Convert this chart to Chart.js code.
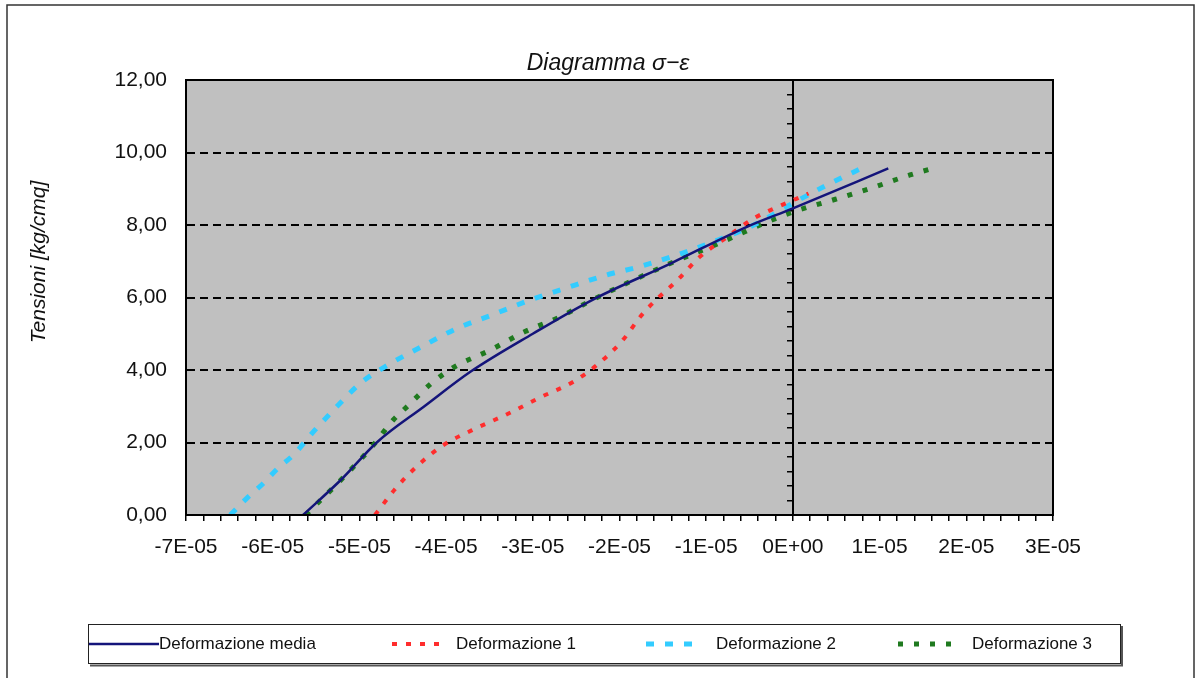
<!DOCTYPE html>
<html>
<head>
<meta charset="utf-8">
<script src="https://cdn.jsdelivr.net/npm/chart.js@4.4.1/dist/chart.umd.min.js"></script>
<style>
  body { margin: 0; background: #fff; }
  canvas { display: block; }
</style>
</head>
<body>
<canvas id="grafico" width="1201" height="678"></canvas>
<script>
var titolo = "Diagramma σ−ε";
var titoloY = "Tensioni [kg/cmq]";
var nomiSerie = ["Deformazione media", "Deformazione 1", "Deformazione 2", "Deformazione 3"];

var mediaX = [-5.65e-5, -5.2e-5, -4.8e-5, -4.25e-5, -3.72e-5, -3.0e-5, -2.3e-5, -1.4e-5, -0.53e-5, 0, 1.1e-5];
var mediaY = [0, 1.0, 2.0, 3.0, 3.95, 5.0, 5.95, 6.95, 7.95, 8.46, 9.56];

var def1X = [-4.82e-5, -4.59e-5, -4.32e-5, -4.03e-5, -3.70e-5, -3.28e-5, -2.90e-5, -2.53e-5, -2.26e-5, -1.96e-5, -1.75e-5, -1.55e-5, -1.34e-5, -1.07e-5, -0.80e-5, -0.44e-5, -0.24e-5, 0.18e-5];
var def1Y = [0, 0.71, 1.38, 1.93, 2.34, 2.80, 3.26, 3.68, 4.14, 4.83, 5.5, 6.0, 6.46, 7.13, 7.6, 8.2, 8.43, 8.87];

var def2X = [-6.49e-5, -6.30e-5, -6.11e-5, -5.94e-5, -5.76e-5, -5.53e-5, -5.28e-5, -4.99e-5, -4.67e-5, -4.30e-5, -3.90e-5, -3.47e-5, -3.03e-5, -2.63e-5, -2.15e-5, -1.74e-5, -1.28e-5, -0.85e-5, -0.45e-5, 0, 0.39e-5, 0.84e-5];
var def2Y = [0, 0.46, 0.87, 1.29, 1.66, 2.30, 2.94, 3.63, 4.14, 4.62, 5.12, 5.52, 5.93, 6.25, 6.62, 6.87, 7.22, 7.6, 8.0, 8.6, 9.10, 9.62];

var def3X = [-5.62e-5, -5.2e-5, -4.85e-5, -4.61e-5, -4.45e-5, -4.17e-5, -3.90e-5, -3.49e-5, -3.09e-5, -2.70e-5, -2.30e-5, -1.5e-5, -0.8e-5, -0.36e-5, 0.04e-5, 0.49e-5, 0.93e-5, 1.35e-5, 1.58e-5];
var def3Y = [0, 1.0, 1.9, 2.62, 2.99, 3.63, 4.09, 4.55, 5.06, 5.45, 5.95, 6.85, 7.55, 8.02, 8.39, 8.71, 9.04, 9.38, 9.54];

function punti(xs, ys) {
    return xs.map(function (x, i) { return { x: x, y: ys[i] }; });
}

// etichette asse x tipo Excel (0E+00), solo ogni 1E-05
function formatoE(v) {
    var m = v / 1e-5;
    var n = Math.round(m);
    if (Math.abs(m - n) > 1e-6) return '';
    if (n === 0) return '0E+00';
    return n + 'E-05';
}

Chart.defaults.font.family = '"Liberation Sans", Arial, sans-serif';
Chart.defaults.color = '#111';

// sfondo grigio, cornici, titoli e legenda
var decorazioni = {
    id: 'decorazioni',
    beforeDraw: function (chart) {
        var ctx = chart.ctx, a = chart.chartArea;
        ctx.save();
        ctx.fillStyle = '#c0c0c0';
        ctx.fillRect(a.left, a.top, a.right - a.left, a.bottom - a.top);
        ctx.restore();
    },
    afterDraw: function (chart) {
        var ctx = chart.ctx, a = chart.chartArea;
        ctx.save();
        ctx.strokeStyle = '#000';
        ctx.lineWidth = 2;
        ctx.strokeRect(a.left, a.top, a.right - a.left, a.bottom - a.top);

        // cornice esterna
        ctx.strokeStyle = '#333';
        ctx.lineWidth = 1.5;
        ctx.strokeRect(7, 5, 1187, 700);

        // titolo
        ctx.fillStyle = '#111';
        ctx.textAlign = 'center';
        ctx.textBaseline = 'middle';
        ctx.font = 'italic 23px "Liberation Sans", Arial, sans-serif';
        ctx.fillText(titolo, 608, 64);

        // titolo asse y
        ctx.save();
        ctx.translate(39, 262);
        ctx.rotate(-Math.PI / 2);
        ctx.font = 'italic 21px "Liberation Sans", Arial, sans-serif';
        ctx.fillText(titoloY, 0, 0);
        ctx.restore();

        // legenda
        ctx.strokeStyle = '#222';
        ctx.lineWidth = 1;
        ctx.strokeRect(88.5, 624.5, 1032, 39);
        ctx.strokeStyle = '#555';
        ctx.lineWidth = 2;
        ctx.beginPath();
        ctx.moveTo(90, 665.5); ctx.lineTo(1122, 665.5); ctx.lineTo(1122, 626);
        ctx.stroke();

        var inizio = [89, 392, 646, 898];
        var lung = [70, 52, 55, 55];
        var testo = [159, 456, 716, 972];
        var ly = 644;
        ctx.textAlign = 'left';
        ctx.font = '17px "Liberation Sans", Arial, sans-serif';
        chart.data.datasets.forEach(function (ds, i) {
            ctx.save();
            ctx.strokeStyle = ds.borderColor;
            ctx.lineWidth = ds.borderWidth;
            ctx.setLineDash(ds.borderDash || []);
            ctx.beginPath();
            ctx.moveTo(inizio[i], ly);
            ctx.lineTo(inizio[i] + lung[i], ly);
            ctx.stroke();
            ctx.restore();
            ctx.fillStyle = '#111';
            ctx.fillText(ds.label, testo[i], ly);
        });
        ctx.restore();
    }
};

var ctx = document.getElementById('grafico').getContext('2d');
new Chart(ctx, {
    type: 'line',
    data: {
        datasets: [{
            label: nomiSerie[0],
            data: punti(mediaX, mediaY),
            borderColor: '#14147a',
            borderWidth: 2.5,
            borderDash: []
        }, {
            label: nomiSerie[1],
            data: punti(def1X, def1Y),
            borderColor: '#ff2d2d',
            borderWidth: 4,
            borderDash: [5, 9]
        }, {
            label: nomiSerie[2],
            data: punti(def2X, def2Y),
            borderColor: '#33ccff',
            borderWidth: 5,
            borderDash: [8, 11]
        }, {
            label: nomiSerie[3],
            data: punti(def3X, def3Y),
            borderColor: '#1f7a1f',
            borderWidth: 5,
            borderDash: [5, 11]
        }]
    },
    options: {
        responsive: false,
        animation: false,
        elements: { point: { radius: 0 }, line: { cubicInterpolationMode: 'monotone' } },
        layout: { padding: { top: 80, right: 148, left: 0, bottom: 0 } },
        plugins: { legend: { display: false }, tooltip: { enabled: false } },
        scales: {
            x: {
                type: 'linear',
                position: 'bottom',
                min: -7e-5,
                max: 3e-5,
                afterFit: function (s) { s.height = 163; },
                ticks: {
                    stepSize: 2e-6,
                    autoSkip: false,
                    maxRotation: 0,
                    padding: 14,
                    font: { size: 21 },
                    callback: formatoE
                },
                grid: { drawOnChartArea: false, tickLength: 6, color: '#000', lineWidth: 1.5 },
                border: { color: '#000', width: 2 }
            },
            y: {
                type: 'linear',
                min: 0,
                max: 12,
                afterFit: function (s) { s.width = 186; },
                ticks: {
                    stepSize: 2,
                    padding: 19,
                    font: { size: 21 },
                    callback: function (v) { return v.toFixed(2).replace('.', ','); }
                },
                grid: {
                    drawTicks: false,
                    lineWidth: 2,
                    color: function (c) {
                        return (c.tick.value === 0 || c.tick.value === 12) ? 'rgba(0,0,0,0)' : '#000';
                    }
                },
                border: { color: '#000', width: 2, dash: [8, 5] }
            },
            y0: {
                type: 'linear',
                axis: 'y',
                position: { x: 0 },
                min: 0,
                max: 12,
                afterFit: function (s) { s.width = 0; },
                ticks: { display: false, stepSize: 0.4 },
                grid: { drawOnChartArea: false, tickLength: 5, color: '#000', lineWidth: 1.5 },
                border: { color: '#000', width: 2 }
            }
        }
    },
    plugins: [decorazioni]
});
</script>
</body>
</html>
